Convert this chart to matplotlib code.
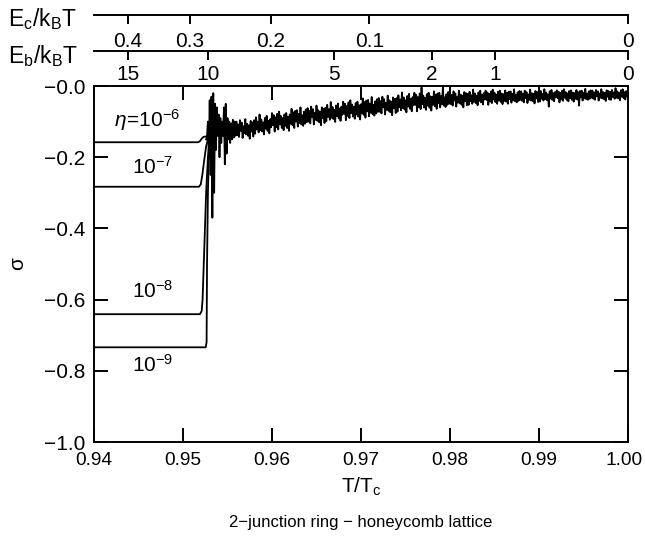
import numpy as np
import matplotlib
matplotlib.use('Agg')
import matplotlib.pyplot as plt
import matplotlib.transforms as mtrans
from matplotlib import font_manager as fm

names = {f.name for f in fm.fontManager.ttflist}
FONT = 'Liberation Sans Narrow' if 'Liberation Sans Narrow' in names else 'Liberation Sans'
plt.rcParams['font.family'] = [FONT, 'DejaVu Sans']
plt.rcParams['mathtext.fontset'] = 'custom'
plt.rcParams['mathtext.rm'] = FONT
plt.rcParams['mathtext.it'] = FONT + ':italic'
plt.rcParams['mathtext.sf'] = FONT
plt.rcParams['axes.unicode_minus'] = True

# ---------------- data ----------------
x_ticks = [0.94, 0.95, 0.96, 0.97, 0.98, 0.99, 1.00]
x_ticklabels = ['0.94', '0.95', '0.96', '0.97', '0.98', '0.99', '1.00']
y_ticks = [-1.0, -0.8, -0.6, -0.4, -0.2, 0.0]
y_ticklabels = ['\u22121.0', '\u22120.8', '\u22120.6', '\u22120.4', '\u22120.2', '\u22120.0']

# secondary scales: T/Tc location of each tick value
eb_tick_T = [0.94384, 0.95285, 0.96697, 0.97800, 0.98505, 1.0]
eb_tick_labels = ['15', '10', '5', '2', '1', '0']
ec_tick_T = [0.94384, 0.95077, 0.95985, 0.97093, 1.0]
ec_tick_labels = ['0.4', '0.3', '0.2', '0.1', '0']

# eta curves (metastable branches)
eta6_T = [0.940, 0.9517, 0.9519, 0.9521, 0.9523, 0.9525, 0.9529, 0.9533]
eta6_s = [-0.158, -0.158, -0.155, -0.148, -0.143, -0.142, -0.141, -0.140]
eta7_T = [0.940, 0.9518, 0.9520, 0.9522, 0.9524, 0.9526, 0.9528, 0.9530]
eta7_s = [-0.283, -0.283, -0.276, -0.245, -0.205, -0.170, -0.150, -0.140]
eta8_T = [0.940, 0.9519, 0.9521, 0.9522, 0.9524, 0.9526, 0.9528, 0.9530]
eta8_s = [-0.641, -0.641, -0.632, -0.600, -0.450, -0.300, -0.200, -0.150]
eta9_T = [0.940, 0.95255, 0.95265, 0.9527, 0.9528, 0.9529]
eta9_s = [-0.734, -0.734, -0.720, -0.500, -0.300, -0.200]

# noisy equilibrium branch, near the transition (grid step 0.0001 from 0.9526)
spike_T0, spike_dT = 0.9526, 0.0001
spike_s = [-0.150, -0.140, -0.100, -0.200, -0.040, -0.250, -0.030, -0.370,
           -0.020, -0.300, -0.050, -0.180, -0.060, -0.140, -0.080, -0.200,
           -0.090, -0.160, -0.100, -0.140, -0.060, -0.220, -0.050, -0.190,
           -0.090, -0.150, -0.100, -0.160, -0.105, -0.150, -0.095, -0.145,
           -0.100, -0.140]
# rest of the branch (grid step 0.0001 from 0.9560, one row = 0.002)
band_T0, band_dT = 0.956, 0.0001
band_s = [
    -0.100, -0.138, -0.108, -0.143, -0.096, -0.126, -0.103, -0.146, -0.113, -0.133,
    -0.093, -0.136, -0.106, -0.140, -0.110, -0.148, -0.098, -0.128, -0.102, -0.142,
    -0.096, -0.134, -0.088, -0.122, -0.100, -0.130, -0.080, -0.124, -0.094, -0.128,
    -0.102, -0.136, -0.090, -0.120, -0.084, -0.126, -0.098, -0.133, -0.093, -0.116,
    -0.076, -0.110, -0.082, -0.128, -0.088, -0.116, -0.078, -0.122, -0.072, -0.108,
    -0.084, -0.118, -0.090, -0.124, -0.080, -0.112, -0.076, -0.118, -0.086, -0.126,
    -0.080, -0.106, -0.064, -0.110, -0.074, -0.118, -0.070, -0.100, -0.068, -0.114,
    -0.078, -0.104, -0.060, -0.108, -0.082, -0.112, -0.072, -0.106, -0.066, -0.102,
    -0.062, -0.100, -0.070, -0.105, -0.058, -0.088, -0.065, -0.108, -0.075, -0.095,
    -0.055, -0.098, -0.068, -0.102, -0.072, -0.110, -0.060, -0.090, -0.064, -0.104,
    -0.061, -0.099, -0.053, -0.087, -0.065, -0.095, -0.045, -0.089, -0.059, -0.093,
    -0.067, -0.101, -0.055, -0.085, -0.049, -0.091, -0.063, -0.098, -0.058, -0.081,
    -0.044, -0.078, -0.050, -0.096, -0.056, -0.084, -0.046, -0.090, -0.040, -0.076,
    -0.052, -0.086, -0.058, -0.092, -0.048, -0.080, -0.044, -0.086, -0.054, -0.094,
    -0.051, -0.077, -0.035, -0.081, -0.045, -0.089, -0.041, -0.071, -0.039, -0.085,
    -0.049, -0.075, -0.031, -0.079, -0.053, -0.083, -0.043, -0.077, -0.037, -0.073,
    -0.034, -0.072, -0.042, -0.077, -0.030, -0.060, -0.037, -0.080, -0.047, -0.067,
    -0.027, -0.070, -0.040, -0.074, -0.044, -0.082, -0.032, -0.062, -0.036, -0.076,
    -0.034, -0.072, -0.026, -0.060, -0.038, -0.068, -0.018, -0.062, -0.032, -0.066,
    -0.040, -0.074, -0.028, -0.058, -0.022, -0.064, -0.036, -0.071, -0.031, -0.054,
    -0.019, -0.053, -0.025, -0.071, -0.031, -0.059, -0.021, -0.065, -0.004, -0.051,
    -0.027, -0.061, -0.033, -0.067, -0.023, -0.055, -0.019, -0.061, -0.029, -0.069,
    -0.030, -0.053, -0.015, -0.057, -0.024, -0.064, -0.021, -0.048, -0.019, -0.060,
    -0.028, -0.051, -0.003, -0.055, -0.032, -0.059, -0.023, -0.053, -0.017, -0.050,
    -0.019, -0.051, -0.025, -0.055, -0.015, -0.041, -0.021, -0.058, -0.030, -0.047,
    -0.013, -0.049, -0.024, -0.053, -0.027, -0.060, -0.017, -0.043, -0.020, -0.054,
    -0.022, -0.053, -0.016, -0.043, -0.026, -0.050, -0.010, -0.045, -0.021, -0.048,
    -0.027, -0.054, -0.018, -0.042, -0.013, -0.046, -0.024, -0.052, -0.020, -0.038,
    -0.013, -0.039, -0.018, -0.053, -0.022, -0.044, -0.015, -0.048, -0.010, -0.038,
    -0.019, -0.045, -0.024, -0.050, -0.016, -0.041, -0.013, -0.045, -0.021, -0.051,
    -0.023, -0.042, -0.012, -0.044, -0.019, -0.050, -0.016, -0.037, -0.015, -0.047,
    -0.022, -0.040, -0.009, -0.043, -0.025, -0.046, -0.018, -0.042, -0.014, -0.039,
    -0.015, -0.042, -0.021, -0.046, -0.013, -0.034, -0.017, -0.048, -0.024, -0.039,
    -0.010, -0.041, -0.020, -0.043, -0.022, -0.049, -0.014, -0.035, -0.017, -0.045,
    -0.019, -0.044, -0.014, -0.036, -0.022, -0.041, -0.009, -0.037, -0.018, -0.040,
    -0.023, -0.058, -0.015, -0.035, -0.011, -0.039, -0.020, -0.043, -0.017, -0.032,
    -0.012, -0.034, -0.016, -0.046, -0.019, -0.038, -0.013, -0.042, -0.009, -0.033,
    -0.017, -0.039, -0.021, -0.043, -0.014, -0.035, -0.012, -0.039, -0.018, -0.044,
    -0.020, -0.036, -0.011, -0.038, -0.017, -0.055, -0.014, -0.032, -0.013, -0.041,
    -0.019, -0.035, -0.008, -0.037, -0.021, -0.039, -0.015, -0.036, -0.012, -0.033,
    -0.013, -0.036, -0.018, -0.039, -0.011, -0.029, -0.015, -0.041, -0.021, -0.033,
    -0.009, -0.035, -0.017, -0.037, -0.019, -0.042, -0.012, -0.030, -0.014, -0.038,
    -0.016, -0.039, -0.011, -0.031, -0.018, -0.036, -0.006, -0.033, -0.015, -0.035,
    -0.019, -0.040, -0.012, -0.030, -0.009, -0.034, -0.017, -0.038, -0.014, -0.028,
    -0.020]

eta_texts = ['$\\eta\\!=\\!10^{-6}$', '$10^{-7}$', '$10^{-8}$', '$10^{-9}$']
eta_text_T = [0.9460, 0.94657, 0.94657, 0.94657]
eta_text_s = [-0.096, -0.228, -0.576, -0.784]

# ---------------- figure ----------------
W_PX, H_PX = 645, 545
fig = plt.figure(figsize=(W_PX / 100, H_PX / 100), dpi=100)
L, R, T, B = 94, 628, 86, 442
rect = [L / W_PX, 1 - B / H_PX, (R - L) / W_PX, (B - T) / H_PX]
ax = fig.add_axes(rect)

FS = 15
LW = 1.4

spike_T = spike_T0 + spike_dT * np.arange(len(spike_s))
band_T = band_T0 + band_dT * np.arange(len(band_s))
noisy_T = np.concatenate([spike_T, band_T])
noisy_s = np.concatenate([spike_s, band_s])

for tt, ss in [(eta6_T, eta6_s), (eta7_T, eta7_s), (eta8_T, eta8_s), (eta9_T, eta9_s)]:
    ax.plot(tt, ss, color='black', lw=1.3, solid_joinstyle='round')
ax.plot(noisy_T, noisy_s, color='black', lw=1.3)

for txt, tx, sy in zip(eta_texts, eta_text_T, eta_text_s):
    ax.text(tx, sy, txt, ha='center', va='center', fontsize=FS)

ax.set_xlim(0.94, 1.0)
ax.set_ylim(-1.0, 0.0)
ax.set_xticks(x_ticks)
ax.set_xticklabels(x_ticklabels)
ax.set_yticks(y_ticks)
ax.set_yticklabels(y_ticklabels)
ax.tick_params(direction='in', length=10, width=LW, top=True, right=True,
               labelsize=FS)
ax.tick_params(axis='x', pad=7, labelsize=13.8)
ax.tick_params(axis='y', pad=6)
for s in ax.spines.values():
    s.set_linewidth(LW)
ax.set_xlabel('$\\mathrm{T/T_c}$', fontsize=FS, labelpad=5)
ax.set_ylabel('\u03c3', fontsize=FS, labelpad=12)

# keep the last x tick label inside the canvas
last_lbl = ax.xaxis.get_major_ticks()[-1].label1
last_lbl.set_transform(last_lbl.get_transform() +
                       mtrans.ScaledTranslation(-4 / 100, 0, fig.dpi_scale_trans))

def top_axis(y_px, ticks, labels, pad):
    a = fig.add_axes([L / W_PX, 1 - y_px / H_PX, (R - L) / W_PX, 1e-4])
    a.set_xlim(0.94, 1.0)
    a.set_ylim(0, 1)
    for s in ['top', 'left', 'right']:
        a.spines[s].set_visible(False)
    a.spines['bottom'].set_linewidth(LW)
    a.set_yticks([])
    a.set_xticks(ticks)
    a.set_xticklabels(labels)
    a.tick_params(axis='x', direction='out', length=6.5, width=LW, pad=pad,
                  labelsize=FS)
    a.patch.set_visible(False)
    return a

top_axis(51, eb_tick_T, eb_tick_labels, 3.5)
top_axis(15, ec_tick_T, ec_tick_labels, 6)

fig.text(8 / W_PX, 1 - 19 / H_PX, '$\\mathrm{E_c/k_BT}$', fontsize=16.5,
         ha='left', va='center')
fig.text(8 / W_PX, 1 - 56 / H_PX, '$\\mathrm{E_b/k_BT}$', fontsize=16.5,
         ha='left', va='center')
fig.text((L + R) / 2 / W_PX, 1 - 523 / H_PX, '2\u2212junction ring \u2212 honeycomb lattice',
         fontsize=12, ha='center', va='center')

fig.savefig('out.png', dpi=100)
